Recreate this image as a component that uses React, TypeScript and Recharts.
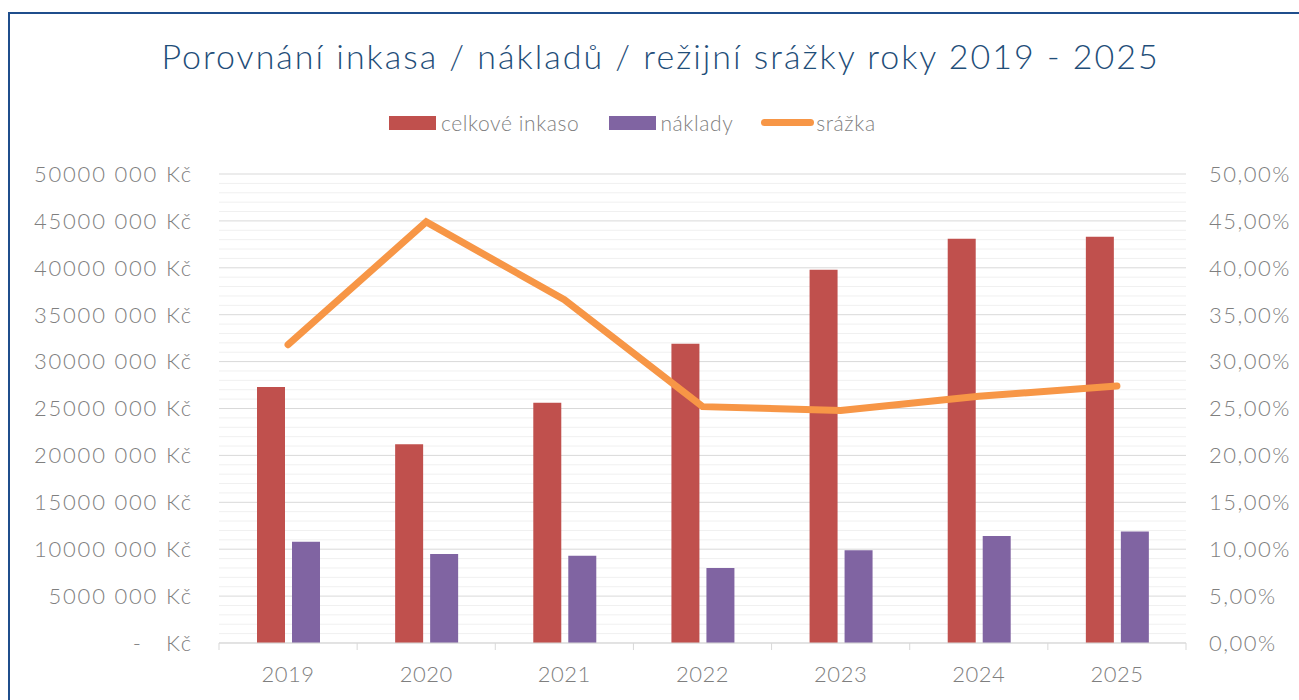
import React from 'react';
import { ComposedChart, Bar, Line, XAxis, YAxis, CartesianGrid, Legend } from 'recharts';

const years = ['2019', '2020', '2021', '2022', '2023', '2024', '2025'];
const inkaso = [27300000, 21200000, 25600000, 31900000, 39800000, 43100000, 43300000];
const naklady = [10800000, 9500000, 9300000, 8000000, 9900000, 11400000, 11900000];
const srazka = [0.318, 0.449, 0.366, 0.252, 0.248, 0.263, 0.274];

const moneyTicks = [0, 5000000, 10000000, 15000000, 20000000, 25000000, 30000000, 35000000, 40000000, 45000000, 50000000];
const pctTicks = [0, 0.05, 0.1, 0.15, 0.2, 0.25, 0.3, 0.35, 0.4, 0.45, 0.5];
// light lines every 1 mil. between the major ones
const minorLines = Array.from({ length: 50 }, (_, i) => (i + 1) * 1000000).filter((v) => v % 5000000 !== 0);

const FONT = 'Lato, "Open Sans", sans-serif';
const GREY = '#7f7f7f';

const data = years.map((year, i) => ({
  year,
  inkaso: inkaso[i],
  naklady: naklady[i],
  srazka: srazka[i],
}));

const formatMoney = (v: number) => (v === 0 ? '-\u00a0\u00a0\u00a0Kč' : `${Math.floor(v / 1000)} 000 Kč`);
const formatPct = (v: number) => `${(v * 100).toFixed(2).replace('.', ',')}%`;

const XTick = (props: any) => {
  const { x, y, payload, index, visibleTicksCount } = props;
  const half = payload && payload.offset ? payload.offset : 69;
  return (
    <g>
      <line x1={x - half} x2={x - half} y1={y} y2={y + 7} stroke="#d9d9d9" />
      {index === visibleTicksCount - 1 && <line x1={x + half} x2={x + half} y1={y} y2={y + 7} stroke="#d9d9d9" />}
      <text x={x} y={y + 39} textAnchor="middle" fill={GREY} fontSize={22} fontFamily={FONT} fontWeight={300} letterSpacing={0.5}>
        {payload.value}
      </text>
    </g>
  );
};

const renderLegend = () => (
  <div style={{ display: 'flex', alignItems: 'center', paddingLeft: 381, fontFamily: FONT, fontWeight: 300, fontSize: 21, letterSpacing: 0.6, color: GREY }}>
    <span style={{ display: 'inline-block', width: 47, height: 14, background: '#C0504D' }} />
    <span style={{ marginLeft: 5, marginRight: 30 }}>celkové inkaso</span>
    <span style={{ display: 'inline-block', width: 47, height: 14, background: '#8064A2' }} />
    <span style={{ marginLeft: 4, marginRight: 28 }}>náklady</span>
    <span style={{ display: 'inline-block', width: 53, height: 7, borderRadius: 4, background: '#F79646' }} />
    <span style={{ marginLeft: 2 }}>srážka</span>
  </div>
);

const App: React.FC = () => {
  return (
    <div
      style={{
        position: 'fixed',
        left: 8,
        top: 12,
        width: 1291,
        height: 688,
        borderTop: '2px solid #1F4E8C',
        borderLeft: '2px solid #1F4E8C',
        boxSizing: 'border-box',
        background: '#fff',
      }}
    >
      <div
        style={{
          position: 'absolute',
          top: 21,
          left: 0,
          width: 1291,
          paddingLeft: 10,
          boxSizing: 'border-box',
          textAlign: 'center',
          fontFamily: FONT,
          fontSize: 34,
          fontWeight: 300,
          letterSpacing: 2,
          color: '#1F4E79',
        }}
      >
        Porovnání inkasa / nákladů / režijní srážky roky 2019 - 2025
      </div>
      <div style={{ position: 'absolute', left: -2, top: -2 }}>
        <ComposedChart width={1291} height={688} data={data} margin={{ top: 98, right: 0, bottom: 0, left: 0 }} barSize={28} barGap={7}>
          <CartesianGrid yAxisId="left" vertical={false} stroke="#f0f0f0" horizontalValues={minorLines} />
          <CartesianGrid yAxisId="left" vertical={false} stroke="#d9d9d9" />
          <XAxis
            dataKey="year"
            height={57}
            axisLine={{ stroke: '#d9d9d9' }}
            tickLine={false}
            tickSize={0}
            tickMargin={0}
            tick={<XTick />}
            interval={0}
          />
          <YAxis
            yAxisId="left"
            width={211}
            domain={[0, 50000000]}
            ticks={moneyTicks}
            interval={0}
            tickFormatter={formatMoney}
            axisLine={false}
            tickLine={false}
            tickSize={0}
            tickMargin={26}
            tick={{ fill: GREY, fontSize: 22, fontFamily: FONT, fontWeight: 300, letterSpacing: 1.8 }}
          />
          <YAxis
            yAxisId="right"
            orientation="right"
            width={113}
            domain={[0, 0.5]}
            ticks={pctTicks}
            interval={0}
            tickFormatter={formatPct}
            axisLine={false}
            tickLine={false}
            tickSize={0}
            tickMargin={23}
            tick={{ fill: GREY, fontSize: 22, fontFamily: FONT, fontWeight: 300, letterSpacing: 1.5, textAnchor: 'start' }}
          />
          <Legend verticalAlign="top" height={64} content={renderLegend} />
          <Bar yAxisId="left" dataKey="inkaso" name="celkové inkaso" fill="#C0504D" isAnimationActive={false} />
          <Bar yAxisId="left" dataKey="naklady" name="náklady" fill="#8064A2" isAnimationActive={false} />
          <Line
            yAxisId="right"
            dataKey="srazka"
            name="srážka"
            type="linear"
            stroke="#F79646"
            strokeWidth={7}
            strokeLinecap="round"
            strokeLinejoin="miter"
            dot={false}
            isAnimationActive={false}
          />
        </ComposedChart>
      </div>
    </div>
  );
};

export default App;
